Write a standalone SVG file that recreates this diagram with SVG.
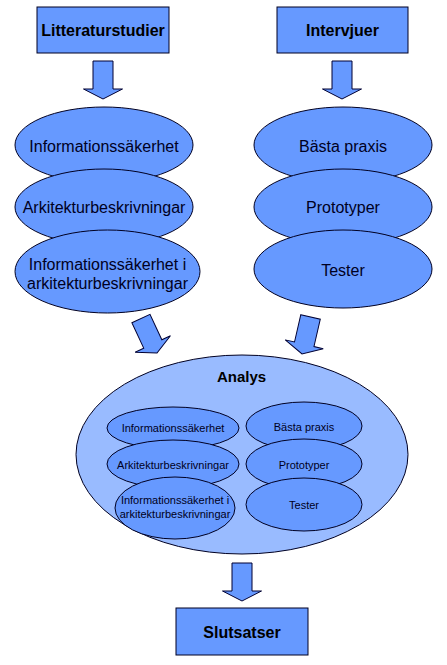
<svg xmlns="http://www.w3.org/2000/svg" xmlns:xlink="http://www.w3.org/1999/xlink" width="447" height="665" viewBox="0 0 447 665">
  <style>
    .box { fill: #6699ff; stroke: #000022; stroke-width: 1; }
    .ell { fill: #6699ff; stroke: #000022; stroke-width: 1; }
    .big { fill: #99bbff; stroke: #000022; stroke-width: 1; }
    .arrow { fill: #6699ff; stroke: #000033; stroke-width: 1; }
    .hd { font-family: "Liberation Sans", Arial, sans-serif; font-weight: bold; font-size: 16px; fill: #000; text-anchor: middle; }
    .lb { font-family: "Liberation Sans", Arial, sans-serif; font-size: 16px; fill: #000022; text-anchor: middle; }
    .sm { font-family: "Liberation Sans", Arial, sans-serif; font-size: 11px; fill: #000022; text-anchor: middle; }
  </style>
  <defs>
    <path id="arr" d="M -10,-38 L 10,-38 L 10,-10 L 19.5,-10 L 0,0 L -19.5,-10 L -10,-10 Z"/>
  </defs>
  <rect width="447" height="665" fill="#ffffff"/>

  <g id="connectors">
    <use xlink:href="#arr" href="#arr" class="arrow" transform="translate(103,99)"/>
    <use xlink:href="#arr" href="#arr" class="arrow" transform="translate(342,99)"/>
    <use xlink:href="#arr" href="#arr" class="arrow" transform="translate(157,353) rotate(-25)"/>
    <use xlink:href="#arr" href="#arr" class="arrow" transform="translate(302,354) rotate(13)"/>
    <use xlink:href="#arr" href="#arr" class="arrow" transform="translate(242,601)"/>
  </g>

  <g id="litteraturstudier">
    <rect class="box" x="37" y="7" width="132" height="46"/>
    <text class="hd" x="103" y="36">Litteraturstudier</text>
  </g>
  <g id="intervjuer">
    <rect class="box" x="277" y="7" width="131" height="46"/>
    <text class="hd" x="342.5" y="36">Intervjuer</text>
  </g>

  <g id="l-informationssakerhet">
    <ellipse class="ell" cx="104" cy="145" rx="89" ry="38"/>
    <text class="lb" x="104" y="151.5">Informationssäkerhet</text>
  </g>
  <g id="l-arkitekturbeskrivningar">
    <ellipse class="ell" cx="104" cy="207" rx="89" ry="38"/>
    <text class="lb" x="104" y="212.5">Arkitekturbeskrivningar</text>
  </g>
  <g id="l-info-i-arkitektur">
    <ellipse class="ell" cx="107.5" cy="271.5" rx="92.5" ry="41.5"/>
    <text class="lb" x="107.5" y="269.5">Informationssäkerhet i</text>
    <text class="lb" x="107.5" y="288.5">arkitekturbeskrivningar</text>
  </g>

  <g id="r-basta-praxis">
    <ellipse class="ell" cx="343" cy="145" rx="89" ry="38"/>
    <text class="lb" x="343" y="151.5">Bästa praxis</text>
  </g>
  <g id="r-prototyper">
    <ellipse class="ell" cx="343" cy="207" rx="89" ry="38"/>
    <text class="lb" x="343" y="212.5">Prototyper</text>
  </g>
  <g id="r-tester">
    <ellipse class="ell" cx="343" cy="269" rx="89" ry="39"/>
    <text class="lb" x="343" y="275.5">Tester</text>
  </g>

  <g id="analys">
    <ellipse class="big" cx="242" cy="454.5" rx="166" ry="99.5"/>
    <text class="hd" x="241.5" y="382" style="font-size:15px">Analys</text>
  </g>

  <g id="a-informationssakerhet">
    <ellipse class="ell" cx="173" cy="428" rx="66" ry="21"/>
    <text class="sm" x="173" y="431.5">Informationssäkerhet</text>
  </g>
  <g id="a-arkitekturbeskrivningar">
    <ellipse class="ell" cx="173" cy="464" rx="66" ry="24"/>
    <text class="sm" x="173" y="469">Arkitekturbeskrivningar</text>
  </g>
  <g id="a-info-i-arkitektur">
    <ellipse class="ell" cx="175" cy="508" rx="60" ry="31"/>
    <text class="sm" x="175" y="504">Informationssäkerhet i</text>
    <text class="sm" x="175" y="518">arkitekturbeskrivningar</text>
  </g>

  <g id="a-basta-praxis">
    <ellipse class="ell" cx="304" cy="426" rx="58" ry="24"/>
    <text class="sm" x="304" y="431">Bästa praxis</text>
  </g>
  <g id="a-prototyper">
    <ellipse class="ell" cx="304" cy="464" rx="58" ry="25"/>
    <text class="sm" x="304" y="469">Prototyper</text>
  </g>
  <g id="a-tester">
    <ellipse class="ell" cx="304" cy="504.5" rx="58" ry="26.5"/>
    <text class="sm" x="304" y="508.5">Tester</text>
  </g>

  <g id="slutsatser">
    <rect class="box" x="176" y="608" width="132" height="47"/>
    <text class="hd" x="242" y="638">Slutsatser</text>
  </g>
</svg>
